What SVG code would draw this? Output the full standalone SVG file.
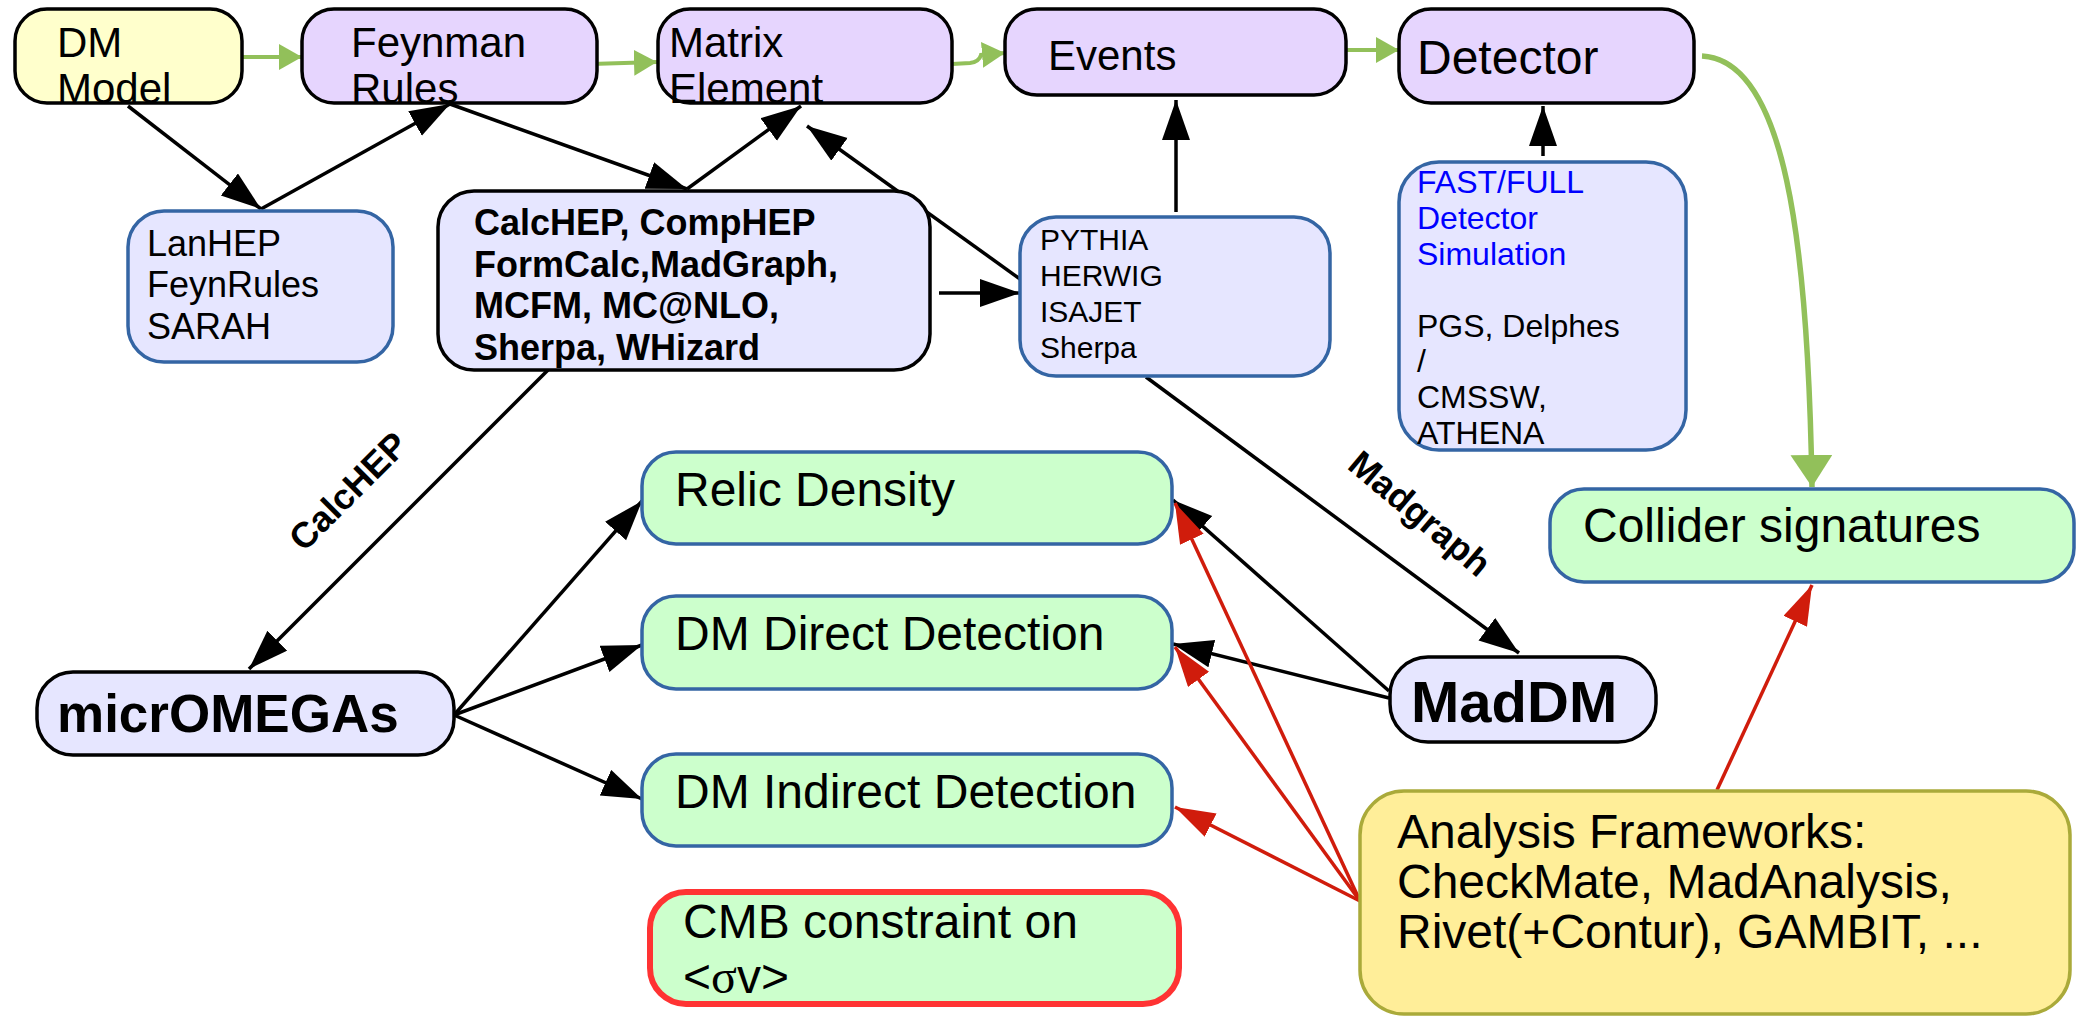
<svg xmlns="http://www.w3.org/2000/svg" width="2077" height="1017" viewBox="0 0 2077 1017">
<defs>
<style>
text{font-family:"Liberation Sans",Arial,sans-serif;fill:#000}
.t42{font-size:42px}
.t48{font-size:48px}
.t36{font-size:36px}
.b36{font-size:36px;font-weight:bold}
.t30{font-size:30px}
.t32{font-size:32px}
.lav{fill:#e6d5fe;stroke:#000;stroke-width:3.5}
.yel{fill:#ffffcc;stroke:#000;stroke-width:3.5}
.blk{fill:#e6e6ff;stroke:#000;stroke-width:3.5}
.blu{fill:#e6e6ff;stroke:#3465a4;stroke-width:3.5}
.grn{fill:#ccffcc;stroke:#3465a4;stroke-width:3.5}
.cmb{fill:#ccffcc;stroke:#ff3333;stroke-width:6}
.ana{fill:#ffee99;stroke:#aaaa3a;stroke-width:3.5}
.ab{fill:none;stroke:#000;stroke-width:3.5;marker-end:url(#ah)}
.ar{fill:none;stroke:#d01c0c;stroke-width:3.5;marker-end:url(#ahr)}
.ag{fill:none;stroke:#92c05a;stroke-width:4;marker-end:url(#ahg)}
</style>
<marker id="ah" markerUnits="userSpaceOnUse" markerWidth="42" markerHeight="30" refX="40" refY="14" orient="auto"><path d="M0,0 L40,14 L0,28 z" fill="#000"/></marker>
<marker id="ahr" markerUnits="userSpaceOnUse" markerWidth="42" markerHeight="30" refX="40" refY="13" orient="auto"><path d="M0,0 L40,13 L0,26 z" fill="#d01c0c"/></marker>
<marker id="ahg" markerUnits="userSpaceOnUse" markerWidth="26" markerHeight="28" refX="23" refY="13" orient="auto"><path d="M0,0 L23,13 L0,26 z" fill="#92c05a"/></marker>
<marker id="ahgb" markerUnits="userSpaceOnUse" markerWidth="34" markerHeight="44" refX="32" refY="21" orient="auto"><path d="M0,0 L32,21 L0,42 z" fill="#92c05a"/></marker>
</defs>
<rect width="2077" height="1017" fill="#fff"/>

<g id="connectors">
<path class="ag" d="M242,57 L302,57"/>
<path class="ag" d="M591,64 L657,62"/>
<path class="ag" d="M952,64 L970,63 Q979,62 981,55 L1005,53"/>
<path class="ag" d="M1346,50 L1399,50"/>
<path d="M1702,56 C1785,60 1808,240 1812,487" fill="none" stroke="#92c05a" stroke-width="5.5" marker-end="url(#ahgb)"/>
<path class="ab" d="M128,106 L261,209"/>
<path class="ab" d="M261,209 L450,104"/>
<path class="ab" d="M450,104 L687,189"/>
<path class="ab" d="M687,189 L801,106"/>
<path class="ab" d="M1020,279 L807,126"/>
<path class="ab" d="M939,293 L1020,293"/>
<path class="ab" d="M1176,212 L1176,100"/>
<path class="ab" d="M1543,156 L1543,106"/>
<path class="ab" d="M548,370 L249,669"/>
<path class="ab" d="M1146,377 L1519,653"/>
<path class="ab" d="M454,715 L642,501"/>
<path class="ab" d="M454,715 L642,645"/>
<path class="ab" d="M454,715 L642,799"/>
<path class="ab" d="M1389,691 L1173,500"/>
<path class="ab" d="M1389,698 L1173,644"/>
<path class="ar" d="M1360,901 L1175,503"/>
<path class="ar" d="M1360,901 L1175,647"/>
<path class="ar" d="M1360,901 L1175,807"/>
<path class="ar" d="M1717,790 L1812,585"/>
<text x="0" y="0" transform="translate(357,500) rotate(-45)" text-anchor="middle" style="font-size:36px;font-weight:bold">CalcHEP</text>
<text x="0" y="0" transform="translate(1412,523) rotate(40)" text-anchor="middle" style="font-size:36px;font-weight:bold">Madgraph</text>
</g>

<g id="dm-model">
<rect class="yel" x="15" y="9" width="227" height="94" rx="32"/>
<text class="t42" x="57" y="57">DM</text>
<text class="t42" x="57" y="103">Model</text>
</g>
<g id="feynman-rules">
<rect class="lav" x="302" y="9" width="295" height="94" rx="32"/>
<text class="t42" x="351" y="57">Feynman</text>
<text class="t42" x="351" y="103">Rules</text>
</g>
<g id="matrix-element">
<rect class="lav" x="658" y="9" width="294" height="94" rx="32"/>
<text class="t42" x="669" y="57">Matrix</text>
<text class="t42" x="669" y="103">Element</text>
</g>
<g id="events">
<rect class="lav" x="1005" y="9" width="341" height="86" rx="32"/>
<text class="t42" x="1048" y="70">Events</text>
</g>
<g id="detector">
<rect class="lav" x="1399" y="9" width="295" height="94" rx="32"/>
<text class="t48" x="1417" y="74">Detector</text>
</g>
<g id="lanhep">
<rect class="blu" x="128" y="211" width="265" height="151" rx="36"/>
<text class="t36" x="147" y="256">LanHEP</text>
<text class="t36" x="147" y="297">FeynRules</text>
<text class="t36" x="147" y="339">SARAH</text>
</g>
<g id="calchep">
<rect class="blk" x="438" y="191" width="492" height="179" rx="36"/>
<text class="b36" x="474" y="235">CalcHEP, CompHEP</text>
<text class="b36" x="474" y="277">FormCalc,MadGraph,</text>
<text class="b36" x="474" y="318">MCFM, MC@NLO,</text>
<text class="b36" x="474" y="360">Sherpa, WHizard</text>
</g>
<g id="pythia">
<rect class="blu" x="1020" y="217" width="310" height="159" rx="36"/>
<text class="t30" x="1040" y="250">PYTHIA</text>
<text class="t30" x="1040" y="286">HERWIG</text>
<text class="t30" x="1040" y="322">ISAJET</text>
<text class="t30" x="1040" y="358">Sherpa</text>
</g>
<g id="detector-sim">
<rect class="blu" x="1399" y="162" width="287" height="288" rx="40"/>
<text class="t32" x="1417" y="193" style="fill:#0000ff">FAST/FULL</text>
<text class="t32" x="1417" y="229" style="fill:#0000ff">Detector</text>
<text class="t32" x="1417" y="265" style="fill:#0000ff">Simulation</text>
<text class="t32" x="1417" y="337">PGS, Delphes</text>
<text class="t32" x="1417" y="372">/</text>
<text class="t32" x="1417" y="408">CMSSW,</text>
<text class="t32" x="1417" y="444">ATHENA</text>
</g>
<g id="relic-density">
<rect class="grn" x="642" y="452" width="530" height="92" rx="34"/>
<text class="t48" x="675" y="506">Relic Density</text>
</g>
<g id="direct-detection">
<rect class="grn" x="642" y="596" width="530" height="93" rx="34"/>
<text class="t48" x="675" y="650">DM Direct Detection</text>
</g>
<g id="indirect-detection">
<rect class="grn" x="642" y="754" width="530" height="92" rx="34"/>
<text class="t48" x="675" y="808">DM Indirect Detection</text>
</g>
<g id="cmb">
<rect class="cmb" x="650" y="892" width="529" height="112" rx="36"/>
<text class="t48" x="683" y="938">CMB constraint on</text>
<text class="t48" x="683" y="993">&lt;<tspan style="font-family:'Liberation Serif',serif">σ</tspan>v&gt;</text>
</g>
<g id="collider-signatures">
<rect class="grn" x="1550" y="489" width="524" height="93" rx="34"/>
<text class="t48" x="1583" y="542">Collider signatures</text>
</g>
<g id="micromegas">
<rect class="blk" x="37" y="672" width="417" height="83" rx="36"/>
<text x="57" y="732" style="font-size:53px;font-weight:bold">micrOMEGAs</text>
</g>
<g id="maddm">
<rect class="blk" x="1390" y="657" width="266" height="85" rx="38"/>
<text x="1411" y="722" style="font-size:58px;font-weight:bold">MadDM</text>
</g>
<g id="analysis-frameworks">
<rect class="ana" x="1360" y="791" width="710" height="223" rx="44"/>
<text class="t48" x="1397" y="848">Analysis Frameworks:</text>
<text class="t48" x="1397" y="898">CheckMate, MadAnalysis,</text>
<text class="t48" x="1397" y="948">Rivet(+Contur), GAMBIT, ...</text>
</g>
</svg>
